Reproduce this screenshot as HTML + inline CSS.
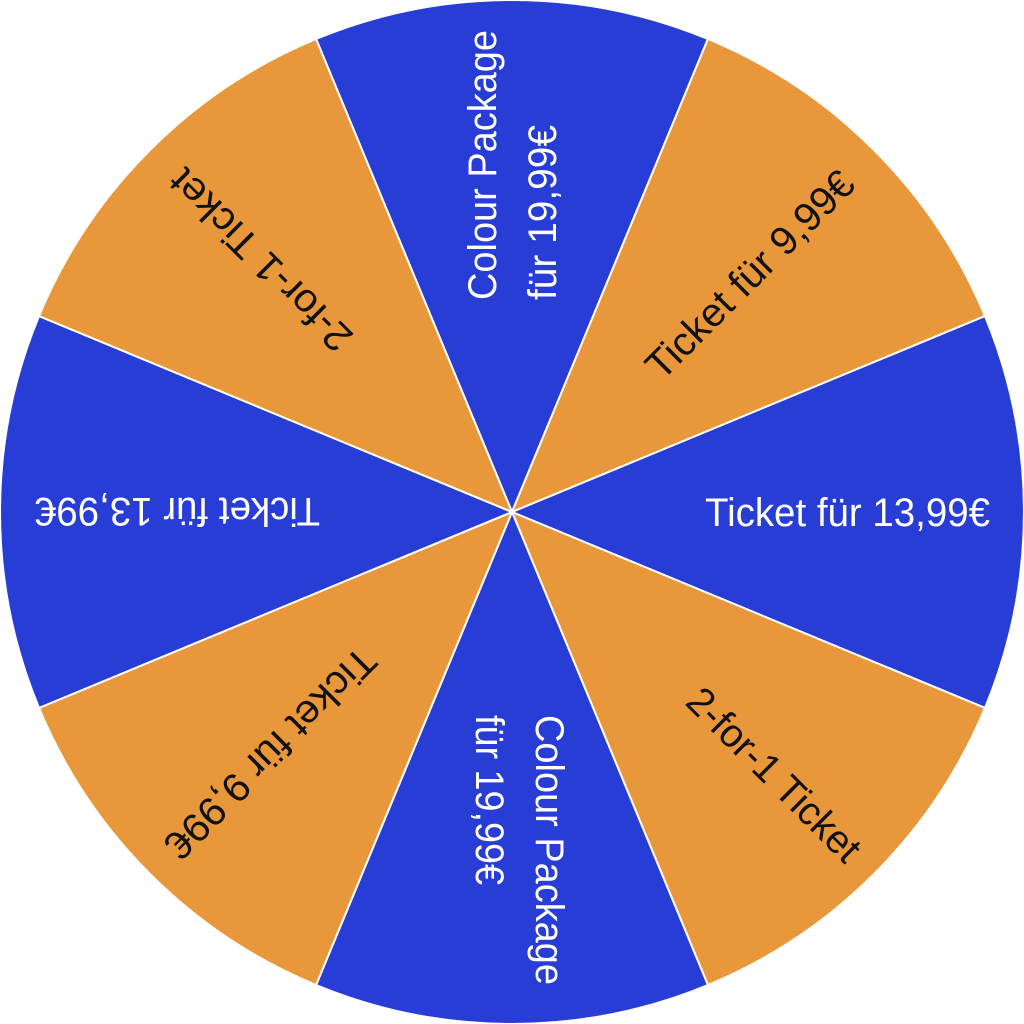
<!DOCTYPE html>
<html><head><meta charset="utf-8"><style>
html,body{margin:0;padding:0;background:#fff;}
svg{display:block}
text{font-family:"Liberation Sans Narrow","Liberation Sans",sans-serif;font-size:40px;}
.w{fill:#fff}.k{fill:#111}
</style></head><body>
<svg width="1024" height="1024" viewBox="0 0 1024 1024">
<g transform="translate(512,512)">
<g stroke="#fff" stroke-width="2">
<path d="M0,0 L-195.9,-473 A512,512 0 0 1 195.9,-473 Z" fill="#283CD6"/>
<path d="M0,0 L195.9,-473 A512,512 0 0 1 473,-195.9 Z" fill="#E8983A"/>
<path d="M0,0 L473,-195.9 A512,512 0 0 1 473,195.9 Z" fill="#283CD6"/>
<path d="M0,0 L473,195.9 A512,512 0 0 1 195.9,473 Z" fill="#E8983A"/>
<path d="M0,0 L195.9,473 A512,512 0 0 1 -195.9,473 Z" fill="#283CD6"/>
<path d="M0,0 L-195.9,473 A512,512 0 0 1 -473,195.9 Z" fill="#E8983A"/>
<path d="M0,0 L-473,195.9 A512,512 0 0 1 -473,-195.9 Z" fill="#283CD6"/>
<path d="M0,0 L-473,-195.9 A512,512 0 0 1 -195.9,-473 Z" fill="#E8983A"/>
</g>
<g transform="rotate(0)"><text class="w" x="193" y="14" textLength="285" lengthAdjust="spacingAndGlyphs">Ticket für 13,99€</text></g>
<g transform="rotate(180)"><text class="w" x="192" y="14" textLength="285" lengthAdjust="spacingAndGlyphs">Ticket für 13,99€</text></g>
<g transform="rotate(-45)"><text class="k" x="198" y="14" textLength="276" lengthAdjust="spacingAndGlyphs">Ticket für 9,99€</text></g>
<g transform="rotate(135)"><text class="k" x="201" y="14" textLength="280" lengthAdjust="spacingAndGlyphs">Ticket für 9,99€</text></g>
<g transform="rotate(45)"><text class="k" x="257" y="14" textLength="228" lengthAdjust="spacingAndGlyphs">2-for-1 Ticket</text></g>
<g transform="rotate(-135)"><text class="k" x="236" y="14" textLength="240" lengthAdjust="spacingAndGlyphs">2-for-1 Ticket</text></g>
<g transform="rotate(-90)">
<text class="w" x="212" y="-16" textLength="270" lengthAdjust="spacingAndGlyphs">Colour Package</text>
<text class="w" x="212" y="44" textLength="175" lengthAdjust="spacingAndGlyphs">für 19,99€</text>
</g>
<g transform="rotate(90)">
<text class="w" x="203" y="-24" textLength="270" lengthAdjust="spacingAndGlyphs">Colour Package</text>
<text class="w" x="203" y="36" textLength="170" lengthAdjust="spacingAndGlyphs">für 19,99€</text>
</g>
</g>
</svg>
</body></html>
